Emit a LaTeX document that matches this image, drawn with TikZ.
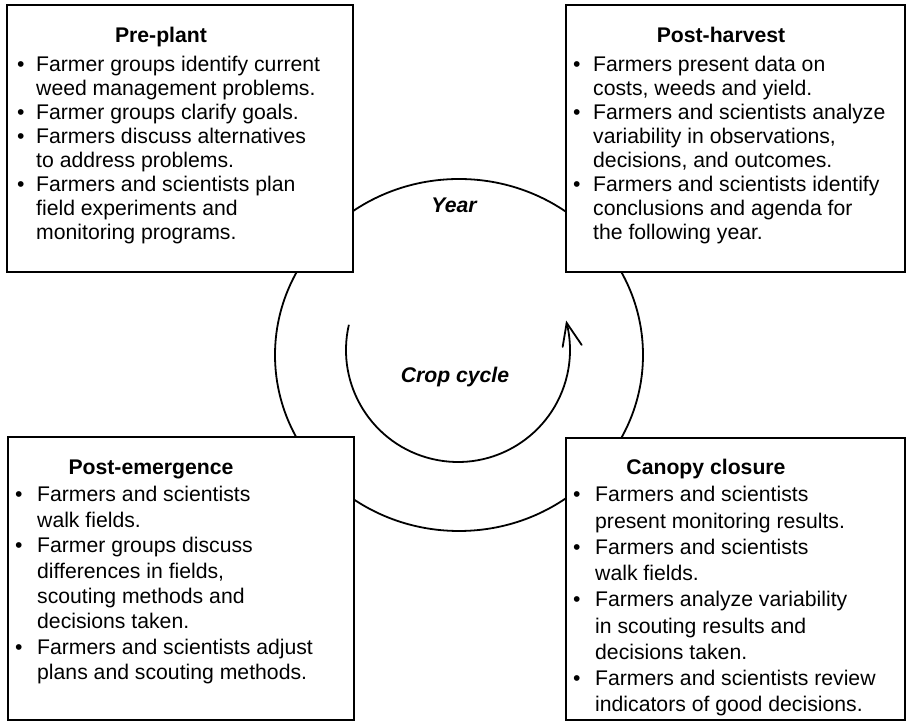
\documentclass[tikz,border=0pt]{standalone}
\usepackage{fontspec}
\setmainfont{Liberation Sans}
\newcommand\itembul[1]{\makebox[#1pt][l]{\textbullet}}
\begin{document}
\begin{tikzpicture}[x=1pt,y=1pt,
  box/.style={draw, line width=2.2pt, fill=white, inner sep=0, anchor=south west},
  ring/.style={line width=1.8pt},
  ttl/.style={anchor=base, inner sep=0, font=\fontsize{21.2}{24}\selectfont\bfseries},
  body/.style={anchor=base west, inner sep=0, font=\fontsize{21.2}{24}\selectfont},
  lab/.style={anchor=base, inner sep=0, font=\fontsize{21.2}{24}\selectfont\bfseries\itshape}]
\useasboundingbox (0,0) rectangle (906,725);
% cycles
\draw[ring] (459,370) ellipse [x radius=184, y radius=176];
\coordinate (cc) at (458,375);
\coordinate (tip) at ([shift={(14:112)}]cc);
\draw[ring] ([shift={(167:112)}]cc) arc[start angle=167, end angle=374, radius=112];
\draw[ring, line join=miter, line cap=round] ([shift={(-4,-24)}]tip) -- (tip) -- ([shift={(15,-22)}]tip);
\node[lab] (year) at (454,512) {Year};
\node[lab] (crop) at (455,342) {Crop cycle};
% boxes
\node[box, minimum width=346pt, minimum height=267pt] (ppbox) at (6,452) {};
\node[box, minimum width=339pt, minimum height=267pt] (phbox) at (565,452) {};
\node[box, minimum width=346pt, minimum height=283pt] (pebox) at (7,4) {};
\node[box, minimum width=339pt, minimum height=282pt] (ccbox) at (565,4) {};
% Pre-plant
\node[ttl] (pptitle) at (161,682) {Pre-plant};
\node[body] (pptext) at (17,653) {\begin{tabular}[t]{@{}l@{}l@{}}
\itembul{19} & Farmer groups identify current\\
 & weed management problems.\\
\itembul{19} & Farmer groups clarify goals.\\
\itembul{19} & Farmers discuss alternatives\\
 & to address problems.\\
\itembul{19} & Farmers and scientists plan\\
 & field experiments and\\
 & monitoring programs.
\end{tabular}};
% Post-harvest
\node[ttl] (phtitle) at (721,682) {Post-harvest};
\node[body] (phtext) at (573,653) {\begin{tabular}[t]{@{}l@{}l@{}}
\itembul{20} & Farmers present data on\\
 & costs, weeds and yield.\\
\itembul{20} & Farmers and scientists analyze\\
 & variability in observations,\\
 & decisions, and outcomes.\\
\itembul{20} & Farmers and scientists identify\\
 & conclusions and agenda for\\
 & the following year.
\end{tabular}};
% Post-emergence
\node[ttl] (petitle) at (151,250) {Post-emergence};
\node[body, font=\fontsize{21.2}{25.4}\selectfont] (petext) at (15,223) {\begin{tabular}[t]{@{}l@{}l@{}}
\itembul{22} & Farmers and scientists\\
 & walk fields.\\
\itembul{22} & Farmer groups discuss\\
 & differences in fields,\\
 & scouting methods and\\
 & decisions taken.\\
\itembul{22} & Farmers and scientists adjust\\
 & plans and scouting methods.
\end{tabular}};
% Canopy closure
\node[ttl] (cctitle) at (706,250) {Canopy closure};
\node[body, font=\fontsize{21.2}{26.25}\selectfont] (cctext) at (573,223) {\begin{tabular}[t]{@{}l@{}l@{}}
\itembul{22} & Farmers and scientists\\
 & present monitoring results.\\
\itembul{22} & Farmers and scientists\\
 & walk fields.\\
\itembul{22} & Farmers analyze variability\\
 & in scouting results and\\
 & decisions taken.\\
\itembul{22} & Farmers and scientists review\\
 & indicators of good decisions.
\end{tabular}};
\end{tikzpicture}
\end{document}
